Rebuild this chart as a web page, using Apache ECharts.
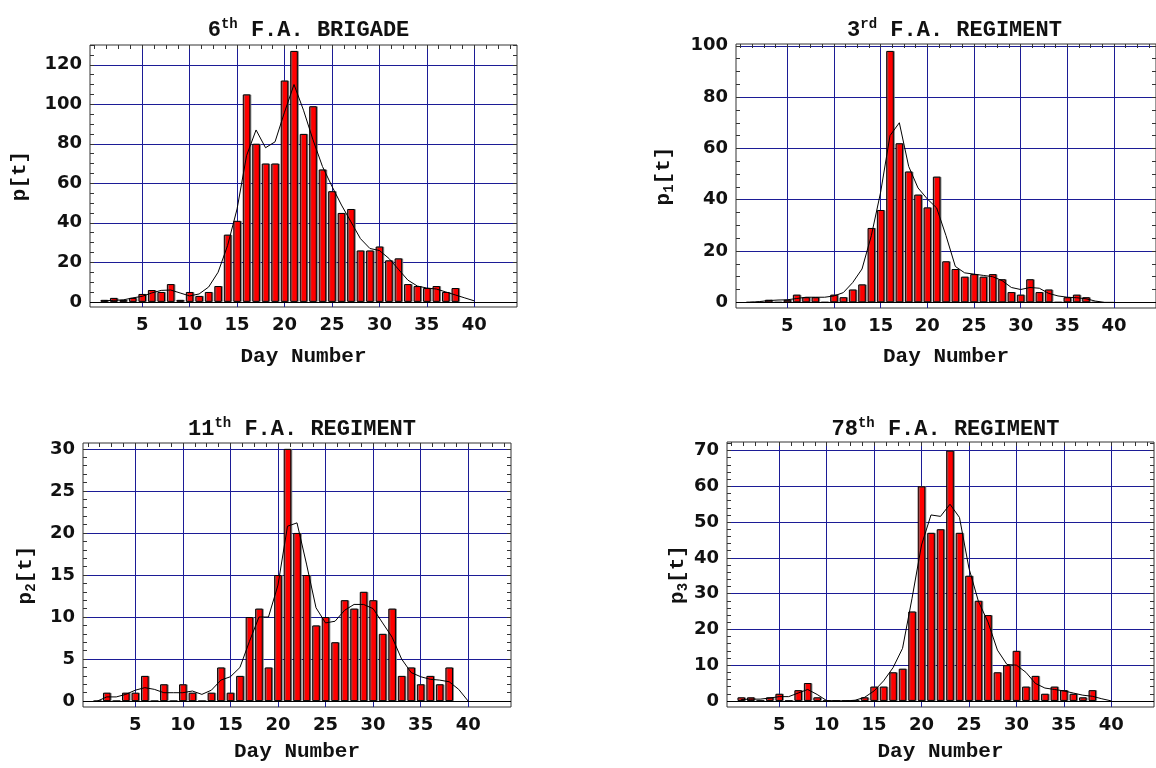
<!DOCTYPE html>
<html><head><meta charset="utf-8">
<script src="https://cdn.jsdelivr.net/npm/echarts@6/dist/echarts.min.js"></script>
<style>html,body{margin:0;padding:0;background:#fff}#c{width:1156px;height:768px}</style>
</head><body><div id="c"></div>
<script>
// ---------------- data ----------------
const DAYS = [1,2,3,4,5,6,7,8,9,10,11,12,13,14,15,16,17,18,19,20,21,22,23,24,25,26,27,28,29,30,31,32,33,34,35,36,37,38];
// 6th F.A. Brigade  p[t]
const P_BARS  = [1,2,1,2,4,6,5,9,1,5,3,5,8,34,41,105,80,70,70,112,127,85,99,67,56,45,47,26,26,28,21,22,9,8,7,8,5,7];
// 3rd F.A. Regiment p1[t]
const P1_BARS = [0,0,1,0,1,3,2,2,0,3,2,5,7,29,36,98,62,51,42,37,49,16,13,10,11,10,11,9,4,3,9,4,5,0,2,3,2,0];
// 11th F.A. Regiment p2[t]
const P2_BARS = [0,1,0,1,1,3,0,2,0,2,1,0,1,4,1,3,10,11,4,15,30,20,15,9,10,7,12,11,13,12,8,11,3,4,2,3,2,4];
// 78th F.A. Regiment p3[t]
const P3_BARS = [1,1,0,1,2,0,3,5,1,0,0,0,0,1,4,4,8,9,25,60,47,48,70,47,35,28,24,8,10,14,4,7,2,4,3,2,1,3];

const CURVE_DAYS = [1,2,3,4,5,6,7,8,9,10,11,12,13,14,15,16,17,18,19,20,21,22,23,24,25,26,27,28,29,30,31,32,33,34,35,36,37,38,39,40];
const P_CURVE  = [0.5,0.8,1,2,2.8,4.5,5.8,6,4.5,3,4,7.5,15,28.5,47,74,87,78,81,96,110,97,82,68.5,58.5,49,40.5,32,27,26,22,16.5,11,8,7,6.5,5,3.5,2,0.5];
const P1_CURVE = [0,0.3,0.7,0.9,1,1.5,2,2,2,2.5,3.8,7.7,13,26,43,65,70,53,44.6,40.3,36.8,26,14,11.5,11,10.5,10,8.5,5.8,5,5.8,5.5,3.5,2.5,2,1.8,1.4,0.5,0,0];
const P2_CURVE = [0,0.5,0.5,0.8,1.3,1.6,1.4,1,1,1,1.2,0.8,1.3,2.5,2.9,4,7.1,10,10,13.8,20.8,21.2,16.3,11.1,9.3,9.5,10.8,11.5,11.5,11,9.3,7.6,5,3.4,2.9,2.6,2.5,2.3,1.4,0];
const P3_CURVE = [0.4,0.5,0.5,0.8,1.2,1.2,2.2,3.2,1.8,0.1,0,0,0.2,1,2.8,5.6,9.3,14.7,28.7,43.6,52,51.6,55,51.3,37.1,27.8,22.1,14.2,10.2,10,8,4.9,3.6,3.2,2.8,2.2,1.6,1.3,0.6,0];

const X_TICKS = [5,10,15,20,25,30,35,40];
const Y_TICKS_P  = [0,20,40,60,80,100,120];
const Y_TICKS_P1 = [0,20,40,60,80,100];
const Y_TICKS_P2 = [0,5,10,15,20,25,30];
const Y_TICKS_P3 = [0,10,20,30,40,50,60,70];

const TITLE_NUM = ['6','3','11','78'];
const TITLE_SUP = ['th','rd','th','th'];
const TITLE_REST = [' F.A. BRIGADE',' F.A. REGIMENT',' F.A. REGIMENT',' F.A. REGIMENT'];
const Y_SUB = ['','1','2','3'];
const X_NAME = 'Day Number';

// ---------------- layout ----------------
const PANELS = [
  {bars:P_BARS,  curve:P_CURVE,  yt:Y_TICKS_P,  ymin:-2.6, ymax:130,  yminor:5, left:90,  top:45,  w:427, h:262, tTop:12,  yGap:58, xGap:39},
  {bars:P1_BARS, curve:P1_CURVE, yt:Y_TICKS_P1, ymin:-2.2, ymax:100.7,yminor:5, left:736, top:44,  w:427, h:264, tTop:12,  yGap:60, xGap:38},
  {bars:P2_BARS, curve:P2_CURVE, yt:Y_TICKS_P2, ymin:-0.7, ymax:30.7, yminor:1, left:83,  top:443, w:428, h:264, tTop:411, yGap:45, xGap:34},
  {bars:P3_BARS, curve:P3_CURVE, yt:Y_TICKS_P3, ymin:-1.7, ymax:72.4, yminor:2, left:727, top:442, w:427, h:265, tTop:411, yGap:37, xGap:34}
];
const XMIN = -0.5, XMAX = 44.5;
const BAR_FRACTION = 0.8;

function steps(a, b, s){ const r=[]; for(let v=a; v<=b+1e-9; v+=s) r.push(+v.toFixed(3)); return r; }

const MONO = 'Liberation Mono';
const SANS = 'DejaVu Sans';
const GRIDC = '#1c1c96';
const FRAMEC = '#333';
const TXT = '#111';

const option = {animation:false, backgroundColor:'#fff', grid:[], xAxis:[], yAxis:[], series:[], title:[]};

PANELS.forEach((p, i) => {
  option.grid.push({left:p.left, top:p.top, width:p.w, height:p.h, show:true, borderColor:FRAMEC, borderWidth:1, backgroundColor:'transparent'});
  const labelStyle = {fontFamily:SANS, fontWeight:'bold', fontSize:18, color:TXT};
  const xMinor = steps(0, XMAX, 1.25);
  const yMinor = steps(0, p.ymax, p.yminor);
  option.xAxis.push({
    type:'value', gridIndex:i, min:XMIN, max:XMAX, position:'bottom',
    axisLine:{show:false, onZero:false},
    axisTick:{show:false, customValues:X_TICKS},
    axisLabel:Object.assign({customValues:X_TICKS, margin:9}, labelStyle),
    splitLine:{show:true, lineStyle:{color:GRIDC, width:1}},
    name:X_NAME, nameLocation:'middle', nameGap:p.xGap,
    nameTextStyle:{fontFamily:MONO, fontWeight:'bold', fontSize:21, color:TXT}
  });
  option.xAxis.push({
    type:'value', gridIndex:i, min:XMIN, max:XMAX, position:'top',
    axisLine:{show:false, onZero:false},
    axisTick:{show:true, inside:true, length:4, customValues:xMinor, lineStyle:{color:FRAMEC}},
    axisLabel:{show:false}, splitLine:{show:false}
  });
  const sub = Y_SUB[i];
  const yName = sub ? '{m|p}{s|' + sub + '}{m|[t]}' : '{m|p[t]}';
  option.yAxis.push({
    type:'value', gridIndex:i, min:p.ymin, max:p.ymax, position:'left',
    axisLine:{show:false, onZero:false},
    axisTick:{show:false, customValues:p.yt},
    axisLabel:Object.assign({customValues:p.yt, margin:8}, labelStyle),
    splitLine:{show:true, lineStyle:{color:GRIDC, width:1}},
    name:yName, nameLocation:'middle', nameGap:p.yGap, nameRotate:90,
    nameTextStyle:{rich:{
      m:{fontFamily:MONO, fontWeight:'bold', fontSize:21, lineHeight:24, color:TXT},
      s:{fontFamily:MONO, fontWeight:'bold', fontSize:14, lineHeight:14, verticalAlign:'bottom', color:TXT}
    }}
  });
  option.yAxis.push({
    type:'value', gridIndex:i, min:p.ymin, max:p.ymax, position:'left',
    axisLine:{show:false, onZero:false},
    axisTick:{show:true, inside:true, length:4, customValues:yMinor, lineStyle:{color:FRAMEC}},
    axisLabel:{show:false}, splitLine:{show:false}
  });
  option.yAxis.push({
    type:'value', gridIndex:i, min:p.ymin, max:p.ymax, position:'right',
    axisLine:{show:false, onZero:false},
    axisTick:{show:true, inside:true, length:4, customValues:yMinor, lineStyle:{color:FRAMEC}},
    axisLabel:{show:false}, splitLine:{show:false}
  });
  option.series.push({
    type:'bar', xAxisIndex:2*i, yAxisIndex:3*i,
    data: DAYS.map((d,k) => [d, p.bars[k]]),
    barWidth: p.w / (XMAX - XMIN) * BAR_FRACTION,
    itemStyle:{color:'#ff0000', borderColor:'#000', borderWidth:1,
      shadowColor:'rgba(120,120,120,0.85)', shadowOffsetX:1, shadowOffsetY:0, shadowBlur:0},
    z:2, silent:true
  });
  option.series.push({
    type:'line', xAxisIndex:2*i, yAxisIndex:3*i,
    data: CURVE_DAYS.map((d,k) => [d, p.curve[k]]),
    showSymbol:false, symbol:'none', smooth:false,
    lineStyle:{color:'#000', width:1}, z:3, silent:true,
    markLine:{silent:true, symbol:['none','none'], label:{show:false},
      lineStyle:{color:'#000', width:1.2, type:'solid'}, data:[{yAxis:0}]}
  });
  option.title.push({
    text:'{m|' + TITLE_NUM[i] + '}{u|' + TITLE_SUP[i] + '}{m|' + TITLE_REST[i] + '}',
    left:p.left + p.w/2, top:p.tTop, textAlign:'center',
    textStyle:{rich:{
      m:{fontFamily:MONO, fontWeight:'bold', fontSize:22, lineHeight:26, color:TXT},
      u:{fontFamily:MONO, fontWeight:'bold', fontSize:14, lineHeight:14, verticalAlign:'top', color:TXT}
    }}
  });
});

const chart = echarts.init(document.getElementById('c'), null, {renderer:'canvas'});
chart.setOption(option);
</script>
</body></html>
